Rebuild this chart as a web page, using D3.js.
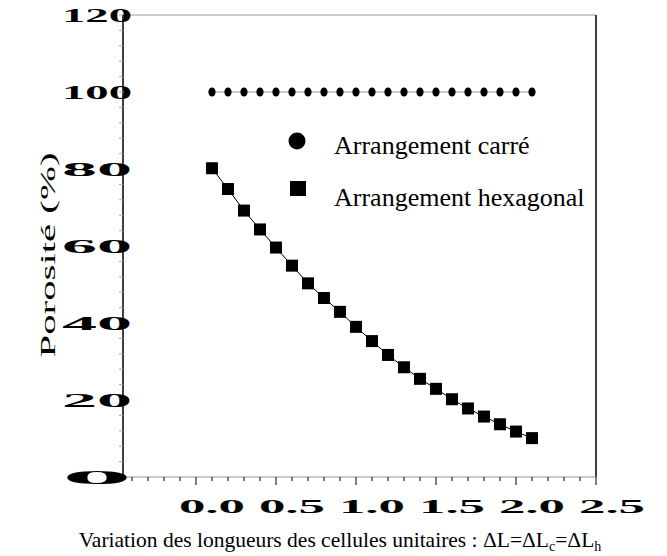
<!DOCTYPE html>
<html><head><meta charset="utf-8">
<script src="https://cdn.jsdelivr.net/npm/d3@7"></script>
<style>body{margin:0;background:#fff}</style>
</head><body><svg id="c" width="667" height="556"></svg>
<script>
const xValues = [0.1,0.2,0.3,0.4,0.5,0.6,0.7,0.8,0.9,1.0,1.1,1.2,1.3,1.4,1.5,1.6,1.7,1.8,1.9,2.0,2.1];
const carre = [100,100,100,100,100,100,100,100,100,100,100,100,100,100,100,100,100,100,100,100,100];
const hexagonal = [80.2,74.8,69.2,64.3,59.6,54.9,50.3,46.5,42.9,39.0,35.3,31.7,28.5,25.5,22.9,20.2,17.8,15.7,13.7,11.8,10.1];
const xTicks = [0.0,0.5,1.0,1.5,2.0,2.5];
const xTickLabels = ["0.0","0.5","1.0","1.5","2.0","2.5"];
const yTicks = [0,20,40,60,80,100,120];
const yTickLabels = ["0","20","40","60","80","100","120"];
const legendLabels = ["Arrangement carré","Arrangement hexagonal"];
const yTitle = "Porosité (%)";

const svg = d3.select("#c");
const L=123, R=596, T=15, B=477;
const x = d3.scaleLinear().domain([-0.456,2.5]).range([L,R]);
const y = d3.scaleLinear().domain([0,120]).range([B,T]);
const serif = "'Liberation Serif','Times New Roman',serif";

// frame
svg.append("line").attr("x1",L).attr("x2",R).attr("y1",T).attr("y2",T).attr("stroke","#999").attr("stroke-width",1);
svg.append("line").attr("x1",R).attr("x2",R).attr("y1",T).attr("y2",B).attr("stroke","#000").attr("stroke-width",1.5);

// x axis
const xMinor = d3.range(-4,26).map(i=>i/10).filter(v=>v>-0.45);
svg.append("line").attr("x1",L).attr("x2",R).attr("y1",B).attr("y2",B).attr("stroke","#999").attr("stroke-width",1);
svg.selectAll(".xm").data(xMinor).enter().append("line")
  .attr("x1",d=>x(d)).attr("x2",d=>x(d)).attr("y1",B).attr("y2",d=>Math.abs(d*2-Math.round(d*2))<1e-6?B+8:B+4)
  .attr("stroke","#000").attr("stroke-width",1);
svg.selectAll(".xl").data(xTicks).enter().append("text")
  .attr("x",d=>x(d)-17).attr("y",513)
  .attr("textLength",66).attr("lengthAdjust","spacingAndGlyphs")
  .attr("font-family",serif).attr("font-weight","bold").attr("font-size",19)
  .text((d,i)=>xTickLabels[i]);

// y axis
const yMinor = d3.range(0,121,4);
svg.append("line").attr("x1",L).attr("x2",L).attr("y1",T).attr("y2",B).attr("stroke","#000").attr("stroke-width",1.5);
svg.selectAll(".ym").data(yMinor).enter().append("line")
  .attr("x1",L).attr("x2",L-4).attr("y1",d=>y(d)).attr("y2",d=>y(d))
  .attr("stroke","#aaa").attr("stroke-width",1);
svg.selectAll(".yl").data(yTicks).enter().append("text")
  .attr("x",62).attr("y",d=>y(d)+7)
  .attr("textLength",70).attr("lengthAdjust","spacingAndGlyphs")
  .attr("font-family",serif).attr("font-weight","bold").attr("font-size",19)
  .text((d,i)=>yTickLabels[i]);

// y title
svg.append("text").attr("transform","translate(55,255) rotate(-90)")
  .attr("text-anchor","middle").attr("font-family",serif).attr("font-size",20)
  .attr("textLength",205).attr("lengthAdjust","spacingAndGlyphs")
  .text(yTitle);

// series
const line = d3.line().x(d=>x(d[0])).y(d=>y(d[1]));
const c = xValues.map((v,i)=>[v,carre[i]]);
const h = xValues.map((v,i)=>[v,hexagonal[i]]);
svg.append("path").attr("d",line(c)).attr("fill","none").attr("stroke","#999").attr("stroke-width",1);
svg.selectAll(".c").data(c).enter().append("ellipse")
  .attr("cx",d=>x(d[0])).attr("cy",d=>y(d[1])).attr("rx",3.6).attr("ry",4.6).attr("fill","#000");
svg.append("path").attr("d",line(h)).attr("fill","none").attr("stroke","#000").attr("stroke-width",1);
svg.selectAll(".h").data(h).enter().append("rect")
  .attr("x",d=>x(d[0])-6).attr("y",d=>y(d[1])-6).attr("width",12).attr("height",12).attr("fill","#000");

// legend
svg.append("circle").attr("cx",297).attr("cy",141).attr("r",8.5).attr("fill","#000");
svg.append("rect").attr("x",290).attr("y",181).attr("width",16).attr("height",15).attr("fill","#000");
svg.append("text").attr("x",334).attr("y",154).attr("font-family",serif).attr("font-size",26).text(legendLabels[0]);
svg.append("text").attr("x",334).attr("y",206).attr("font-family",serif).attr("font-size",26).text(legendLabels[1]);

// x title
const xt = svg.append("text").attr("x",340).attr("y",547).attr("text-anchor","middle")
  .attr("font-family",serif).attr("font-size",21.5);
xt.append("tspan").text("Variation des longueurs des cellules unitaires : ΔL=ΔL");
xt.append("tspan").attr("font-size",14).attr("dy",4).text("c");
xt.append("tspan").attr("dy",-4).text("=ΔL");
xt.append("tspan").attr("font-size",14).attr("dy",4).text("h");
</script></body></html>
